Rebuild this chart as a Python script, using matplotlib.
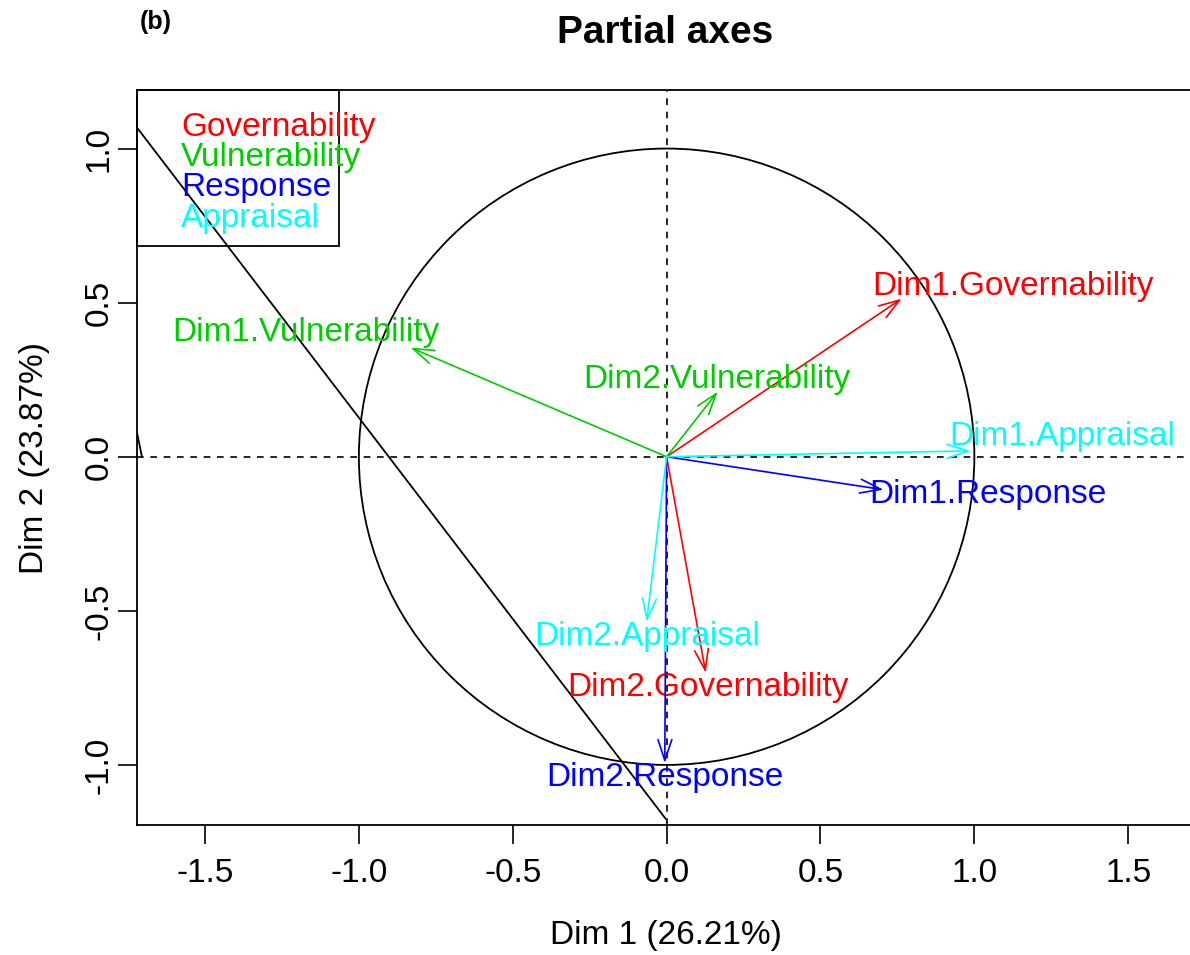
import numpy as np
import matplotlib.pyplot as plt
from matplotlib.patches import Circle, Rectangle

plt.rcParams['font.family'] = ['Liberation Sans', 'DejaVu Sans']

# ── data ──────────────────────────────────────────────────────
groups = ["Governability", "Vulnerability", "Response", "Appraisal"]
group_colors = ["#FF0000", "#00CD00", "#0000FF", "#00FFFF"]

axis_names = ["Dim1.Governability", "Dim2.Governability",
              "Dim1.Vulnerability", "Dim2.Vulnerability",
              "Dim1.Response", "Dim2.Response",
              "Dim1.Appraisal", "Dim2.Appraisal"]
axis_group = [0, 0, 1, 1, 2, 2, 3, 3]
coord_x = [0.764, 0.127, -0.832, 0.166, 0.705, -0.006, 0.988, -0.065]
coord_y = [0.513, -0.701, 0.354, 0.211, -0.107, -0.994, 0.019, -0.536]
label_x = [1.125, 0.134, -1.173, 0.163, 1.043, -0.006, 1.284, -0.063]
label_y = [0.552, -0.750, 0.403, 0.250, -0.123, -1.040, 0.065, -0.584]

ticks = [-1.5, -1.0, -0.5, 0.0, 0.5, 1.0, 1.5]
xlab = "Dim 1 (26.21%)"
ylab = "Dim 2 (23.87%)"

# ── figure ────────────────────────────────────────────────────
W, H = 1190, 955
fig = plt.figure(figsize=(W / 100, H / 100), dpi=100)
ax = fig.add_axes([137 / W, 1 - 825 / H, (1195 - 137) / W, (825 - 90) / H])
ax.set_xlim(-1.721, 1.717)
ax.set_ylim(-1.195, 1.19)

# correlation circle (with the stray polygon segments of the original)
ax.add_patch(Circle((0, 0), 1, fill=False, ec="black", lw=1.3))
ax.plot([-1.721, -0.003], [1.068, -1.175], color="black", lw=1.3)
ax.plot([-1.721, -1.705], [0.078, 0.0], color="black", lw=1.3)

ax.axhline(0, color="black", ls=(0, (4, 4)), lw=1.2)
ax.axvline(0, color="black", ls=(0, (4, 4)), lw=1.2)

for name, g, x, y, lx, ly in zip(axis_names, axis_group, coord_x, coord_y,
                                   label_x, label_y):
    col = group_colors[g]
    ax.annotate("", xy=(x, y), xytext=(0, 0),
                arrowprops=dict(arrowstyle="->,head_length=0.6,head_width=0.2",
                                color=col, lw=1.2, shrinkA=0, shrinkB=0,
                                mutation_scale=25))
    ax.text(lx, ly, name, color=col, fontsize=24, ha="center", va="center")

# legend box
ax.add_patch(Rectangle((-1.721, 0.685), 0.655, 0.505, fill=False,
                       ec="black", lw=1.3, clip_on=False))
for i, (g, col) in enumerate(zip(groups, group_colors)):
    ax.text(-1.578, 1.068 - i * 0.098, g, color=col, fontsize=24,
            ha="left", va="center")

ax.set_xticks(ticks)
ax.set_yticks(ticks[1:-1])
ax.set_xticklabels([f"{t:.1f}" for t in ticks])
ax.set_yticklabels([f"{t:.1f}" for t in ticks[1:-1]], rotation=90, va="center")
ax.tick_params(length=14, width=1.2, labelsize=24)
ax.tick_params(axis="x", pad=10)
ax.tick_params(axis="y", pad=2)
for s in ax.spines.values():
    s.set_linewidth(1.3)

ax.set_xlabel(xlab, fontsize=24, labelpad=22)
ax.set_ylabel(ylab, fontsize=24, labelpad=24)

fig.text(665 / W, 1 - 33 / H, "Partial axes", fontsize=28, fontweight="bold",
         ha="center", va="center")
fig.text(140 / W, 1 - 22 / H, "(b)", fontsize=18, fontweight="bold",
         ha="left", va="center")

fig.savefig("out.png", dpi=100)
